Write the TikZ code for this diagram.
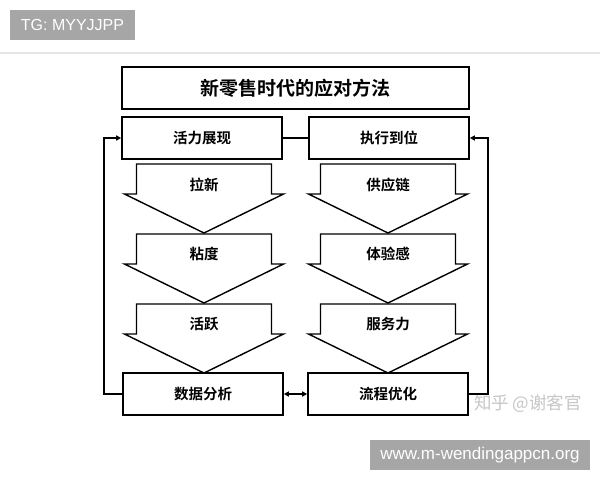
\documentclass[tikz,border=0pt]{standalone}
\usepackage{fontspec}
\setmainfont{Liberation Sans}
\newfontfamily\cjk{Noto Sans CJK SC}[BoldFont={* Bold}]
\usepackage{tikz}
\usetikzlibrary{positioning,arrows.meta,calc}

\begin{document}
\begin{tikzpicture}[x=1pt, y=-1pt,
    stagebox/.style={draw, line width=1.6pt, minimum width=160pt,
        minimum height=42pt, font=\cjk\bfseries\fontsize{14.5}{14.5}\selectfont},
    titlebox/.style={draw, line width=1.6pt, minimum width=347pt,
        minimum height=42pt, font=\cjk\bfseries\fontsize{19}{19}\selectfont},
    blockarrow/.style={draw, line width=1.4pt, line join=miter, fill=white},
    steplbl/.style={font=\cjk\bfseries\fontsize{14.5}{14.5}\selectfont, inner sep=0pt},
    loopline/.style={line width=1.6pt, -{Triangle[length=5pt,width=5pt]}},
    tag/.style={fill=black!35, text=white, inner sep=0pt},
]
\useasboundingbox (0,0) rectangle (600,480);
\fill[white] (0,0) rectangle (600,480);

% watermark tags
\node[tag, minimum width=125pt, minimum height=30pt,
    font=\fontsize{16}{16}\selectfont] (tg) at (72.5,25) {TG: MYYJJPP};
\draw[black!10, line width=2pt] (0,53) -- (600,53);
\node[tag, minimum width=220pt, minimum height=30pt,
    font=\fontsize{17}{17}\selectfont] (site) at (480,455) {www.m-wendingappcn.org};
\node[text=black!22, font=\cjk\fontsize{17.5}{17.5}\selectfont, inner sep=0pt]
    (zhihu) at (528,404) {知乎 @谢客官};

% title and stage boxes
\node[titlebox] (title) at (295.5,88) {新零售时代的应对方法};
\node[stagebox] (show) at (202,138) {活力展现};
\node[stagebox] (exec) at (389,138) {执行到位};
\node[stagebox] (data) at (203,394) {数据分析};
\node[stagebox] (flow) at (388,394) {流程优化};

% block arrows
\foreach \cx/\col in {204/L, 388/R}
  \foreach \ty/\row in {164/1, 234/2, 304/3}
    \draw[blockarrow] (\cx-67.5,\ty) -- (\cx+67.5,\ty) -- (\cx+67.5,\ty+30)
        -- (\cx+79.5,\ty+30) -- (\cx,\ty+69) -- (\cx-79.5,\ty+30)
        -- (\cx-67.5,\ty+30) -- cycle;

\node[steplbl] (pull) at (204,185) {拉新};
\node[steplbl] (stick) at (204,254) {粘度};
\node[steplbl] (active) at (204,324) {活跃};
\node[steplbl] (supply) at (388,185) {供应链};
\node[steplbl] (exper) at (388,254) {体验感};
\node[steplbl] (serve) at (388,324) {服务力};

% connectors
\draw[line width=1.6pt] (show) -- (exec);
\draw[line width=1.6pt, {Triangle[length=5pt,width=5pt]}-{Triangle[length=5pt,width=5pt]}]
    (data) -- (flow);
\draw[loopline] (data.west) -- ++(-18,0) |- (show.west);
\draw[loopline] (flow.east) -- ++(19,0) |- (exec.east);

\end{tikzpicture}
\end{document}
